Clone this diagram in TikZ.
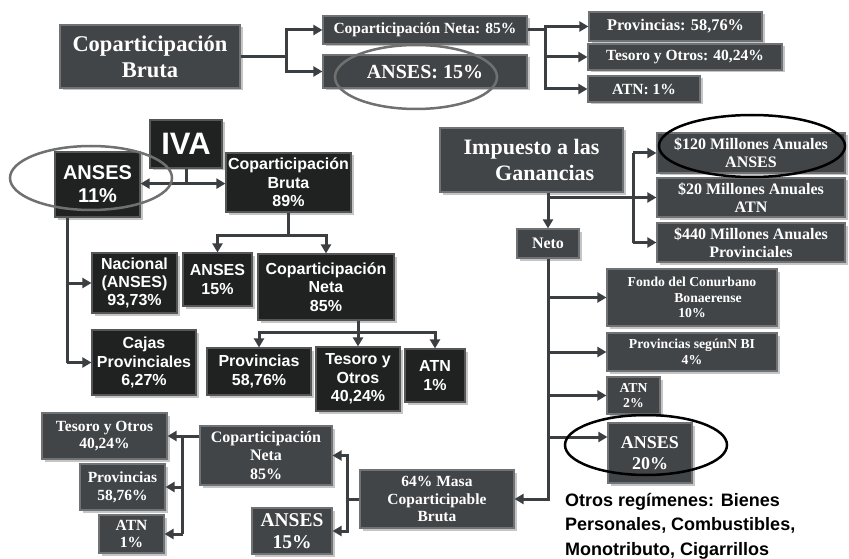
\documentclass[tikz,border=0pt]{standalone}
\usepackage{fontspec}
\setmainfont{Liberation Serif}
\setsansfont{Liberation Sans}
\usetikzlibrary{arrows.meta,shadows,calc}
\definecolor{boxgray}{RGB}{66,69,72}
\definecolor{edgegray}{RGB}{112,115,118}
\definecolor{boxblack}{RGB}{32,34,34}
\definecolor{edgeblack}{RGB}{84,86,88}
\definecolor{conncol}{RGB}{60,63,66}
\definecolor{ringgray}{RGB}{112,112,112}
\newcommand{\fsz}[1]{\fontsize{#1}{\fpeval{#1*1.15}}\selectfont}
\newcommand{\mybox}[7]{\node[#2, minimum width={#5pt-#3pt}, minimum height={#6pt-#4pt}] (#1) at ({(#3+#5)/2},{(#4+#6)/2}) {#7};}
\tikzset{
  sb/.style={fill=boxgray, draw=edgegray, line width=1.2pt, text=white, inner sep=0pt, align=center,
    font=\rmfamily\bfseries\fsz{#1}, drop shadow={shadow xshift=2.5pt, shadow yshift=-2.5pt, opacity=0.45}},
  sb/.default=15,
  kb/.style={fill=boxblack, draw=edgeblack, line width=1.2pt, text=white, inner sep=0pt, align=center,
    font=\sffamily\bfseries\fsz{#1}, drop shadow={shadow xshift=2.5pt, shadow yshift=-2.5pt, opacity=0.45}},
  kb/.default=16,
  conn/.style={draw=conncol, line width=3pt},
  arr/.style={conn, -{Triangle[length=9pt,width=10pt]}},
  ring/.style={line width=2.5pt},
}
\begin{document}
\begin{tikzpicture}[x=1pt,y=-1pt]
\useasboundingbox[fill=white] (0,0) rectangle (849,559);
% ---------- top row
\mybox{cb}{sb=22.5}{60}{25}{240}{88}{Coparticipación\\Bruta}
\mybox{cn85}{sb=15.5}{323}{16}{527}{44}{Coparticipación Neta: 85\%}
\mybox{an15}{sb=20}{323}{55}{527}{88}{ANSES: 15\%}
\mybox{pr}{sb=16.3}{589}{12}{762}{41}{Provincias: 58,76\%}
\mybox{te}{sb=15.5}{588}{44}{782}{70}{Tesoro y Otros: 40,24\%}
\mybox{atn}{sb=15.5}{588}{76}{700}{102}{ATN: 1\%}
\draw[conn] (cb.east) -- ++(46,0) coordinate (j1);
\draw[arr] (j1) |- (cn85.west);
\draw[arr] (j1) |- (an15.west);
\draw[conn] (cn85.east) -- ++(18,0) coordinate (j2);
\draw[arr] (j2) |- (pr.west);
\draw[arr] (j2) |- (te.west);
\draw[arr] (j2) |- (atn.west);
% ---------- IVA
\mybox{iva}{kb=31}{150}{120}{222}{168}{IVA}
\mybox{a11}{kb=20}{55}{152}{140}{217}{ANSES\\11\%}
\mybox{cb89}{kb=16}{226}{153}{351}{212}{Coparticipación\\Bruta\\89\%}
\draw[conn] (iva.south) -- ++(0,15) coordinate (j3);
\draw[arr] (j3) -- (j3 -| a11.east);
\draw[arr] (j3) -- (j3 -| cb89.west);
\mybox{nac}{kb=16}{92}{253}{177}{313}{Nacional\\(ANSES)\\93,73\%}
\mybox{am15}{kb=16}{183}{253}{252}{306}{ANSES\\15\%}
\mybox{cnm}{kb=16}{258}{254}{394}{320}{Coparticipación\\Neta\\85\%}
\draw[conn] (cb89.south) -- ++(0,23) coordinate (j4);
\draw[arr] (j4) -| (am15.north);
\draw[arr] (j4) -| (cnm.north);
\mybox{prm}{kb=16}{207}{348}{311}{395}{Provincias\\58,76\%}
\mybox{tem}{kb=16}{316}{347}{400}{411}{Tesoro y\\Otros\\40,24\%}
\mybox{atm}{kb=16}{405}{349}{465}{402}{ATN\\1\%}
\draw[conn] (cnm.south -| tem.north) -- ++(0,12) coordinate (j5);
\draw[arr] (j5) -| (prm.north);
\draw[arr] (j5) -- (tem.north);
\draw[arr] (j5) -| (atm.north);
\mybox{caj}{kb=16}{92}{330}{196}{395}{Cajas\\Provinciales\\6,27\%}
\coordinate (j6) at ($(a11.south west)+(13,0)$);
\draw[conn] (j6) -- (j6 |- caj.west);
\draw[arr] (j6 |- nac.west) -- (nac.west);
\draw[arr] (j6 |- caj.west) -- (caj.west);
% ---------- Ganancias
\mybox{ig}{sb=22}{440}{128}{623}{192}{Impuesto a las\\\hspace*{1.2em}Ganancias}
\mybox{m120}{sb=16}{657}{133}{845}{173}{\$120 Millones Anuales\\ANSES}
\mybox{m20}{sb=16}{657}{178}{845}{217}{\$20 Millones Anuales\\ATN}
\mybox{m440}{sb=16}{657}{223}{845}{262}{\$440 Millones Anuales\\Provinciales}
\mybox{neto}{sb=16}{517}{229}{579}{258}{Neto}
\draw[arr] (neto.north |- ig.south) -- (neto.north);
\draw[arr] (neto.north |- m20.west) -- (m20.west);
\coordinate (br) at (633,200);
\draw[conn] (br |- m120.west) -- (br |- m440.west);
\draw[arr] (br |- m120.west) -- (m120.west);
\draw[arr] (br |- m440.west) -- (m440.west);
\mybox{fo}{sb=13.7}{607}{269}{777}{326}{Fondo del Conurbano\\\hspace*{32pt}Bonaerense\\10\%}
\mybox{pnbi}{sb=13.7}{607}{333}{777}{371}{Provincias segúnN BI\\4\%}
\mybox{at2}{sb=13.7}{607}{377}{660}{414}{ATN\\2\%}
\mybox{an20}{sb=18}{608}{423}{692}{483}{ANSES\\20\%}
% ---------- bottom
\mybox{m64}{sb=15.5}{360}{470}{514}{528}{64\% Masa\\Coparticipable\\Bruta}
\draw[arr] (neto.south) |- (m64.east);
\draw[arr] (neto.south |- fo.west) -- (fo.west);
\draw[arr] (neto.south |- pnbi.west) -- (pnbi.west);
\draw[arr] (neto.south |- at2.west) -- (at2.west);
\coordinate (a20in) at ([yshift=16pt]an20.west);
\draw[arr] (neto.south |- a20in) -- (a20in);
\mybox{cnb}{sb=16}{200}{426}{332}{485}{Coparticipación\\Neta\\85\%}
\mybox{anb}{sb=19.5}{252}{508}{332}{554}{ANSES\\15\%}
\draw[conn] (m64.west) -- ++(-12,0) coordinate (j8);
\draw[arr] (j8) |- (cnb.east);
\draw[arr] (j8) |- (anb.east);
\mybox{teb}{sb=15.5}{42}{413}{167}{459}{Tesoro y Otros\\40,24\%}
\mybox{prb}{sb=15.5}{80}{464}{165}{510}{Provincias\\58,76\%}
\mybox{atb}{sb=15.5}{99}{515}{164}{553}{ATN\\1\%}
\draw[arr] (cnb.west |- teb.east) -- (teb.east);
\path (teb.east) ++(15,0) coordinate (j9);
\draw[conn] (j9) -- (j9 |- atb.east);
\draw[arr] (j9 |- prb.east) -- (prb.east);
\draw[arr] (j9 |- atb.east) -- (atb.east);
% ---------- text
\node[anchor=north west, inner sep=0pt, align=left, font=\sffamily\bfseries\fontsize{18}{24.5}\selectfont] (otros) at (565,493) {Otros regímenes: Bienes\\Personales, Combustibles,\\Monotributo, Cigarrillos};
% ---------- highlight rings
\draw[ring, draw=ringgray] (416,77) ellipse [x radius=81, y radius=32];
\draw[ring, draw=ringgray] (91,178) ellipse [x radius=81, y radius=32];
\draw[ring, draw=black] (752,146) ellipse [x radius=93, y radius=31];
\draw[ring, draw=black] (646,445) ellipse [x radius=81, y radius=30];
\end{tikzpicture}
\end{document}
